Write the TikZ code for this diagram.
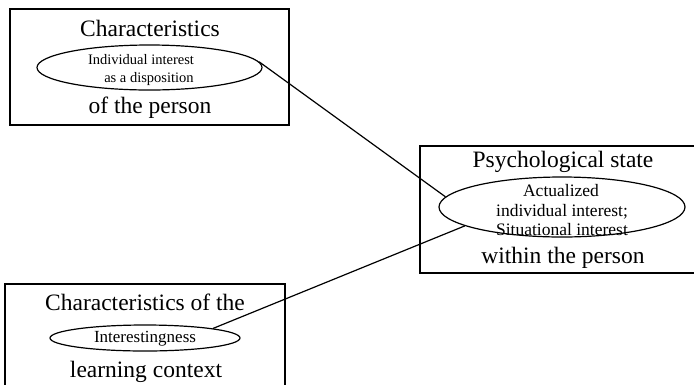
\documentclass[tikz,border=0pt]{standalone}
\usepackage{fontspec}
\setmainfont{Liberation Serif}
\usetikzlibrary{shapes.geometric}
\begin{document}
\begin{tikzpicture}[x=1pt,y=-1pt,
  box/.style={draw, line width=1.2pt, rectangle, inner sep=0pt},
  oval/.style={draw, line width=1.2pt, ellipse, inner sep=0pt},
  big/.style={anchor=base, inner sep=0pt, font=\fontsize{23.5}{27}\selectfont},
  smallA/.style={anchor=base, inner sep=0pt, font=\fontsize{14.5}{18}\selectfont},
  smallB/.style={anchor=base, inner sep=0pt, font=\fontsize{17.5}{20}\selectfont},
  link/.style={line width=1.2pt}]
\useasboundingbox (0,0) rectangle (694,384);
% box 1
\node[box, minimum width=279pt, minimum height=116pt] (b1) at (149.5,67) {};
\node[oval, minimum width=225pt, minimum height=45pt] (e1) at (149.5,67.5) {};
\node[big] (t1a) at (150,36) {Characteristics};
\node[smallA] (t1b) at (141,64) {Individual interest};
\node[smallA] (t1c) at (149,82) {as a disposition};
\node[big] (t1d) at (150,113) {of the person};
% box 2
\node[box, minimum width=310pt, minimum height=127pt] (b2) at (575,209.5) {};
\node[oval, minimum width=246pt, minimum height=60pt] (e2) at (562,207) {};
\node[big] (t2a) at (563,167) {Psychological state};
\node[smallB] (t2b) at (561,196) {Actualized};
\node[smallB] (t2c) at (562,216) {individual interest;};
\node[smallB] (t2d) at (562,235) {Situational interest};
\node[big] (t2e) at (563,263) {within the person};
% box 3
\node[box, minimum width=280pt, minimum height=120pt] (b3) at (145,344) {};
\node[oval, minimum width=190pt, minimum height=26pt] (e3) at (145,338) {};
\node[big] (t3a) at (145,310) {Characteristics of the};
\node[smallB, font=\fontsize{17}{20}\selectfont] (t3b) at (145,342) {Interestingness};
\node[big] (t3c) at (146,377) {learning context};
% connectors
\draw[link] (e1.3) -- (e2.175);
\draw[link] (e3.8) -- (e2.191);
\end{tikzpicture}
\end{document}
